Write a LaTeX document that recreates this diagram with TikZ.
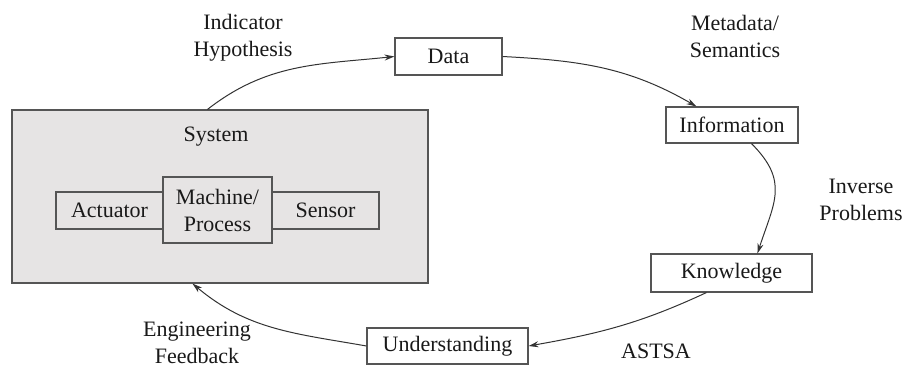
\documentclass[tikz,border=0pt]{standalone}
\usepackage{fontspec}
\setmainfont{Liberation Serif}
\usetikzlibrary{arrows.meta}
\definecolor{sysgray}{HTML}{E6E4E4}
\definecolor{edgegray}{HTML}{555555}
\definecolor{linegray}{HTML}{333333}
\begin{document}
\begin{tikzpicture}[x=1pt,y=1pt,
  every node/.style={font=\fontsize{22}{27}\selectfont, text=black!90},
  box/.style={draw=edgegray, line width=1.1pt, fill=white, inner sep=0pt},
  ibox/.style={box, fill=sysgray},
  lbl/.style={align=center, inner sep=0pt},
  conn/.style={draw=linegray, line width=1pt, -{Stealth[length=10pt,width=6pt]}}]
\useasboundingbox (0,0) rectangle (903,-367);
% system
\node[box, fill=sysgray, minimum width=416pt, minimum height=173pt] (sys) at (220,-196.5) {};
\node[lbl] (syslbl) at (216,-137) {System};
\node[ibox, minimum width=107pt, minimum height=37pt] (act) at (109.5,-210.5) {Actuator};
\node[ibox, minimum width=107pt, minimum height=37pt] (sen) at (325.5,-210.5) {Sensor};
\node[ibox, minimum width=109pt, minimum height=66pt, align=center] (mac) at (217.5,-210) {Machine/\\Process};
% cycle boxes
\node[box, minimum width=107pt, minimum height=37pt] (data) at (448.5,-56.5) {Data};
\node[box, minimum width=132pt, minimum height=36pt] (info) at (732,-125) {Information};
\node[box, minimum width=161pt, minimum height=38pt] (know) at (731.5,-273) {Knowledge};
\node[box, minimum width=161pt, minimum height=36pt] (under) at (447.5,-346) {Understanding};
% labels
\node[lbl] (ind) at (243,-38) {Indicator\\Hypothesis};
\node[lbl] (meta) at (735,-36) {Metadata/\\Semantics};
\node[lbl] (inv) at (861,-200) {Inverse\\Problems};
\node[lbl] (astsa) at (656,-351) {ASTSA};
\node[lbl] (eng) at (197,-343) {Engineering\\Feedback};
% connectors
\draw[conn] ([xshift=196pt]sys.north west) to[out=38,in=186] (data.west);
\draw[conn] (data.east) to[out=-3,in=150] ([xshift=31pt]info.north west);
\draw[conn] ([xshift=86pt]info.south west) to[out=-45,in=72,looseness=1.25] ([xshift=107pt]know.north west);
\draw[conn] ([xshift=56pt]know.south west) to[out=205,in=10] (under.east);
\draw[conn] (under.west) to[out=170,in=-40] ([xshift=181pt]sys.south west);
\end{tikzpicture}
\end{document}
